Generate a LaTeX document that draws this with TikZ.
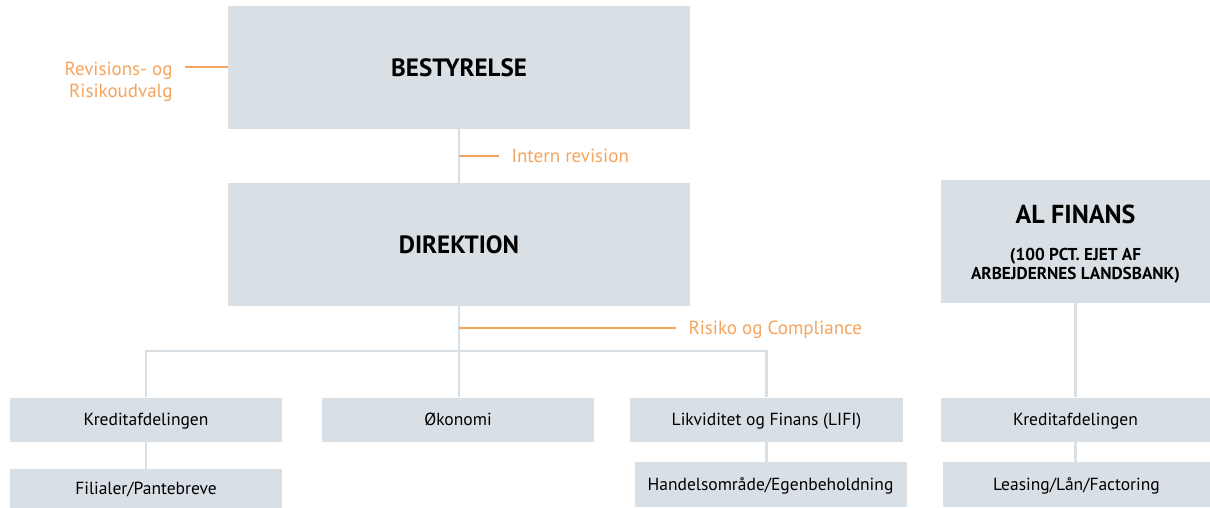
\documentclass[tikz,border=0pt]{standalone}
\usepackage{fontspec}
\setmainfont{PT Sans}
\usetikzlibrary{positioning}
\definecolor{boxgray}{HTML}{D8DFE5}
\definecolor{accent}{HTML}{F6A45D}
\tikzset{
  topbox/.style={fill=boxgray, inner sep=0pt, minimum width=462pt, minimum height=123pt,
    font=\bfseries\fontsize{25}{30}\selectfont},
  unitbox/.style={fill=boxgray, inner sep=0pt, minimum width=272pt, minimum height=44pt,
    text height=1.15em, text depth=0pt, font=\fontsize{17.5}{21}\selectfont},
  link/.style={draw=boxgray, line width=2.5pt},
  note/.style={text=accent, font=\fontsize{19}{22}\selectfont},
  noteline/.style={draw=accent, line width=2pt},
}

\begin{document}
\begin{tikzpicture}[x=1pt, y=-1pt]
        \useasboundingbox (0,0) rectangle (1210,508);

        % top management
        \node[topbox] (bestyrelse) at (459,67.5) {BESTYRELSE};
        \node[topbox] (direktion) at (459,244.5) {DIREKTION};
        \node[topbox, minimum width=269pt, align=center, font=\bfseries\fontsize{17.2}{19}\selectfont,
              text height=77.6pt, text depth=0pt] (alfinans) at (1075.5,241)
            {{\fontsize{26}{30}\selectfont AL FINANS}\\[18pt](100 PCT. EJET AF\\ARBEJDERNES LANDSBANK)};

        % departments
        \node[unitbox] (kredit) at (146,419.5) {Kreditafdelingen};
        \node[unitbox] (oekonomi) at (458,419.5) {Økonomi};
        \node[unitbox, minimum width=273pt] (likvid) at (766.5,419.5) {Likviditet og Finans (LIFI)};
        \node[unitbox, minimum height=39pt] (filialer) at (146,488.5) {Filialer/Pantebreve};
        \node[unitbox, minimum height=45pt] (handel) at (770.5,484.5) {Handelsområde/Egenbeholdning};
        \node[unitbox, minimum width=269pt] (kreditAL) at (1075.5,419.5) {Kreditafdelingen};
        \node[unitbox, minimum width=267pt, minimum height=45pt] (leasing) at (1076.5,484.5) {Leasing/Lån/Factoring};

        \coordinate (split) at (458,351);

        \draw[link] (bestyrelse) -- (direktion);
        \draw[link] (direktion.south) -- (direktion.south |- oekonomi.north);
        \draw[link] (kredit.north) |- (split) -| (likvid.north);
        \draw[link] (kredit) -- (filialer);
        \draw[link] (likvid.south) -- (likvid.south |- handel.north);
        \draw[link] (alfinans) -- (kreditAL);
        \draw[link] (kreditAL.south) -- (kreditAL.south |- leasing.north);

        % staff functions
        \node[note, align=right, anchor=east] (udvalg) at (176,82) {Revisions- og\\Risikoudvalg};
        \node[note, anchor=west, text height=1.2em, text depth=0pt] (intern) at (508,156) {Intern revision};
        \node[note, anchor=west, text height=1.2em, text depth=0pt] (risiko) at (685,328) {Risiko og Compliance};

        \draw[noteline, shorten >=9pt] (bestyrelse.west) -- (bestyrelse.west -| udvalg.east);
        \draw[noteline] (bestyrelse.south |- intern.west) -- ([xshift=-9pt]intern.west);
        \draw[noteline] (direktion.south |- risiko.west) -- ([xshift=-9pt]risiko.west);

    \end{tikzpicture}
\end{document}
